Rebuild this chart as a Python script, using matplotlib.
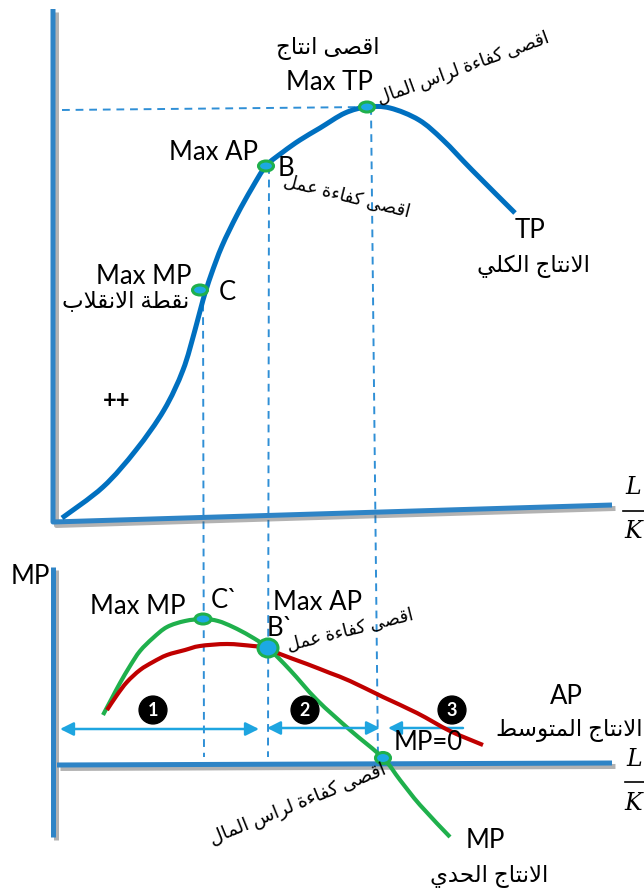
import matplotlib
matplotlib.use("Agg")
import matplotlib.pyplot as plt
from matplotlib.patches import Ellipse, PathPatch
from matplotlib.path import Path
import matplotlib.patheffects as pe

plt.rcParams['font.family'] = ['Lato', 'DejaVu Sans']

# ---- data (positions, in picture pixels) ----
tp_x = [62, 103, 136, 164, 183, 195, 203, 211, 222, 237, 252, 266, 283, 300, 320, 345, 367, 390, 419, 443, 472, 515]
tp_y = [518, 487, 450, 410, 370, 330, 300, 275, 246, 215, 188, 166, 152, 140, 128, 113, 107, 108, 120, 140, 170, 213]

mp_x = [103, 112, 120, 130, 140, 153, 167, 185, 203, 218, 233, 250, 268, 290, 317, 350, 383, 400, 420, 450]
mp_y = [715, 698, 683, 666, 651, 638, 627, 621, 619, 621, 627, 636, 648, 670, 700, 730, 758, 780, 805, 837]

ap_x = [107, 117, 127, 140, 153, 167, 185, 200, 227, 253, 268, 280, 307, 330, 350, 383, 417, 450, 483]
ap_y = [710, 695, 682, 670, 662, 655, 650, 646, 644, 646, 648, 654, 664, 673, 681, 697, 713, 731, 745]

# key points: C (max MP), B (max AP), max TP  -- top, and C`, B`, MP=0 -- bottom
top_pts_x = [200, 266, 367]
top_pts_y = [290, 166, 107]
bot_pts_x = [203, 268, 383]
bot_pts_y = [619, 648, 758]

stages = ['1', '2', '3']

# ---- arabic shaping (matplotlib has no RTL shaping) ----
FORMS = {
    'ء': ('\ufe80', None, None, None),
    'ا': ('\ufe8d', '\ufe8e', None, None),
    'ب': ('\ufe8f', '\ufe90', '\ufe91', '\ufe92'),
    'ة': ('\ufe93', '\ufe94', None, None),
    'ت': ('\ufe95', '\ufe96', '\ufe97', '\ufe98'),
    'ج': ('\ufe9d', '\ufe9e', '\ufe9f', '\ufea0'),
    'ح': ('\ufea1', '\ufea2', '\ufea3', '\ufea4'),
    'د': ('\ufea9', '\ufeaa', None, None),
    'ر': ('\ufead', '\ufeae', None, None),
    'س': ('\ufeb1', '\ufeb2', '\ufeb3', '\ufeb4'),
    'ص': ('\ufeb9', '\ufeba', '\ufebb', '\ufebc'),
    'ط': ('\ufec1', '\ufec2', '\ufec3', '\ufec4'),
    'ع': ('\ufec9', '\ufeca', '\ufecb', '\ufecc'),
    'ف': ('\ufed1', '\ufed2', '\ufed3', '\ufed4'),
    'ق': ('\ufed5', '\ufed6', '\ufed7', '\ufed8'),
    'ك': ('\ufed9', '\ufeda', '\ufedb', '\ufedc'),
    'ل': ('\ufedd', '\ufede', '\ufedf', '\ufee0'),
    'م': ('\ufee1', '\ufee2', '\ufee3', '\ufee4'),
    'ن': ('\ufee5', '\ufee6', '\ufee7', '\ufee8'),
    'و': ('\ufeed', '\ufeee', None, None),
    'ى': ('\ufeef', '\ufef0', None, None),
    'ي': ('\ufef1', '\ufef2', '\ufef3', '\ufef4'),
}


def ar(text):
    res = []
    i = 0
    n = len(text)
    while i < n:
        c = text[i]
        if c not in FORMS:
            res.append(c)
            i += 1
            continue
        prev = text[i - 1] if i > 0 else ''
        joins_prev = prev in FORMS and FORMS[prev][2] is not None and FORMS[c][1] is not None
        if c == 'ل' and i + 1 < n and text[i + 1] == 'ا':
            res.append('\ufefc' if joins_prev else '\ufefb')
            i += 2
            continue
        nxt = text[i + 1] if i + 1 < n else ''
        joins_next = FORMS[c][2] is not None and nxt in FORMS and FORMS[nxt][1] is not None
        iso, fin, ini, med = FORMS[c]
        if joins_prev and joins_next:
            res.append(med)
        elif joins_prev:
            res.append(fin)
        elif joins_next:
            res.append(ini)
        else:
            res.append(iso)
        i += 1
    return ''.join(reversed(res))


# smooth curve through the read points (catmull-rom as bezier)
def smooth(xs, ys):
    pts = list(zip(xs, ys))
    verts = [pts[0]]
    codes = [Path.MOVETO]
    for i in range(len(pts) - 1):
        p0 = pts[i - 1] if i > 0 else pts[i]
        p1 = pts[i]
        p2 = pts[i + 1]
        p3 = pts[i + 2] if i + 2 < len(pts) else pts[i + 1]
        c1 = (p1[0] + (p2[0] - p0[0]) / 6, p1[1] + (p2[1] - p0[1]) / 6)
        c2 = (p2[0] - (p3[0] - p1[0]) / 6, p2[1] - (p3[1] - p1[1]) / 6)
        verts += [c1, c2, p2]
        codes += [Path.CURVE4] * 3
    return Path(verts, codes)


# ---- figure ----
fig = plt.figure(figsize=(6.44, 8.92), dpi=100)
ax = fig.add_axes([0, 0, 1, 1])
ax.set_xlim(0, 644)
ax.set_ylim(892, 0)
ax.axis('off')

axis_col = '#2E84C6'
dash_col = '#2F8FD6'
shadow = [pe.SimpleLineShadow(offset=(2.5, -2.5), shadow_color='#555555', alpha=0.45), pe.Normal()]

# axes of both panels
ax.plot([53, 53, 612], [9, 522, 505], color=axis_col, lw=3.6, solid_capstyle='butt', path_effects=shadow, zorder=2)
ax.plot([53, 53], [567, 837], color=axis_col, lw=3.6, solid_capstyle='butt', path_effects=shadow, zorder=2)
ax.plot([57, 612], [765, 763], color=axis_col, lw=3.6, solid_capstyle='butt', path_effects=shadow, zorder=2)

# dashed guide lines
dkw = dict(color=dash_col, lw=1.4, dashes=(4, 3), zorder=1)
ax.plot([62, top_pts_x[2]], [110, top_pts_y[2]], **dkw)
ax.plot([top_pts_x[0] + 3, bot_pts_x[0] + 1], [top_pts_y[0], 757], **dkw)
ax.plot([top_pts_x[1] + 3, bot_pts_x[1]], [top_pts_y[1], 757], **dkw)
ax.plot([top_pts_x[2] + 4, bot_pts_x[2] - 5], [top_pts_y[2], 760], **dkw)

# curves
ax.add_patch(PathPatch(smooth(tp_x, tp_y), fc='none', ec='#0070C0', lw=3.6, zorder=3))
ax.add_patch(PathPatch(smooth(mp_x, mp_y), fc='none', ec='#1FB04C', lw=3.0, zorder=3))
ax.add_patch(PathPatch(smooth(ap_x, ap_y), fc='none', ec='#C00000', lw=3.0, zorder=4))

# point markers
for x, y in zip(top_pts_x, top_pts_y):
    ax.add_patch(Ellipse((x, y), 15, 10, fc='#1CA9E4', ec='#1FB04C', lw=2.2, zorder=5))
bot_sizes = [(16, 10), (20, 18), (15, 11)]
for (x, y), (w, h) in zip(zip(bot_pts_x, bot_pts_y), bot_sizes):
    ax.add_patch(Ellipse((x, y), w, h, fc='#1CA9E4', ec='#1FB04C', lw=2.2, zorder=5))

# stage arrows
arr_col = '#1EA5E0'
akw = dict(color=arr_col, lw=1.8, mutation_scale=20, shrinkA=0, shrinkB=0)
ax.annotate('', xy=(259, 729), xytext=(60, 729), arrowprops=dict(arrowstyle='<|-|>', **akw))
ax.annotate('', xy=(380, 728), xytext=(267, 728), arrowprops=dict(arrowstyle='<|-|>', **akw))
ax.annotate('', xy=(388, 728), xytext=(463, 728), arrowprops=dict(arrowstyle='-|>', **akw))

stage_x = [153, 305, 452]
for s, x in zip(stages, stage_x):
    ax.text(x, 710, s, color='white', fontsize=13, fontweight='bold', ha='center', va='center',
            bbox=dict(boxstyle='circle,pad=0.3', fc='black', ec='black'), zorder=6)

# ---- labels: top panel ----
lat = dict(fontsize=18.5, color='black', ha='center', va='center', zorder=7)
arb = dict(color='black', ha='center', va='center', zorder=7, rotation_mode='anchor')

ax.text(328, 48, ar('اقصى انتاج'), fontsize=16.5, **arb)
ax.text(329, 82, 'Max TP', **lat)
ax.text(463, 68, ar('اقصى كفاءة لراس المال'), fontsize=13, rotation=20, **arb)
ax.text(214, 153, 'Max AP', **lat)
ax.text(286, 168, 'B', **lat)
ax.text(347, 196, ar('اقصى كفاءة عمل'), fontsize=13, rotation=-14, **arb)
ax.text(530, 231, 'TP', **lat)
ax.text(534, 266, ar('الانتاج الكلي'), fontsize=16.5, **arb)
ax.text(144, 277, 'Max MP', **lat)
ax.text(227, 293, 'C', **lat)
ax.text(126, 302, ar('نقطة الانقلاب'), fontsize=16.5, **arb)
ax.text(117, 400, '++', fontsize=17, fontweight='bold', ha='center', va='center')

# L/K fraction labels
serif = dict(family='DejaVu Serif', style='italic', fontsize=17, ha='center', va='center')
ax.text(633, 488, 'L', **serif)
ax.plot([623, 644], [511, 511], color='black', lw=1.2)
ax.text(633, 532, 'K', **serif)
ax.text(634, 760, 'L', **serif)
ax.plot([625, 644], [782, 782], color='black', lw=1.2)
ax.text(633, 804, 'K', **serif)

# ---- labels: bottom panel ----
ax.text(30, 577, 'MP', **lat)
ax.text(138, 607, 'Max MP', **lat)
ax.text(224, 601, 'C`', **lat)
ax.text(318, 602, 'Max AP', **lat)
ax.text(280, 628, 'B`', **lat)
ax.text(350, 630, ar('اقصى كفاءة عمل'), fontsize=13, rotation=14, **arb)
ax.text(566, 697, 'AP', **lat)
ax.text(569, 731, ar('الانتاج المتوسط'), fontsize=16.5, **arb)
ax.text(428, 743, 'MP=0', **lat)
ax.text(298, 805, ar('اقصى كفاءة لراس المال'), fontsize=13.5, rotation=22, **arb)
ax.text(485, 841, 'MP', **lat)
ax.text(489, 876, ar('الانتاج الحدي'), fontsize=16.5, **arb)

fig.savefig('out.png', dpi=100)
